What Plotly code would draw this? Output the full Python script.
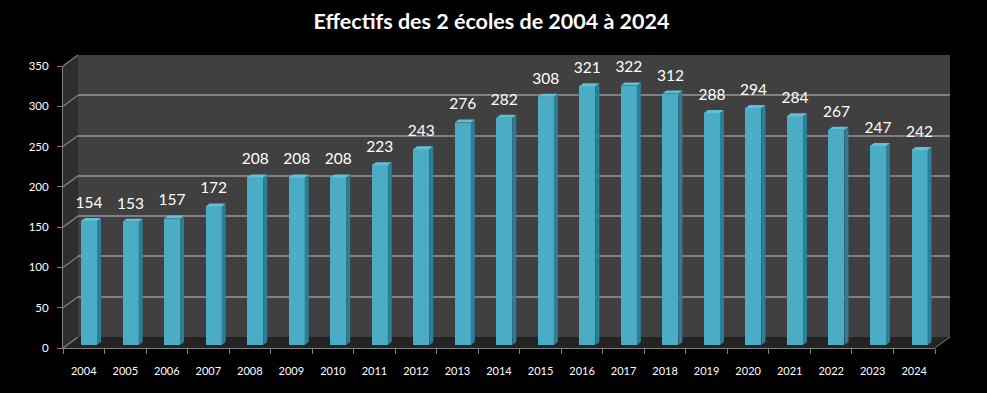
import plotly.graph_objects as go

# ---- data ----
years = [str(y) for y in range(2004, 2025)]
effectifs = [154, 153, 157, 172, 208, 208, 208, 223, 243, 276, 282, 308,
             321, 322, 312, 288, 294, 284, 267, 247, 242]
y_ticks = [0, 50, 100, 150, 200, 250, 300, 350]
title_text = "Effectifs des 2 écoles de 2004 à 2024"

# ---- geometry (pixels) ----
W, H = 987, 393
ML, MR, MT, MB = 63, 37, 55, 45
PW, PH = W - ML - MR, H - MT - MB          # 887 x 293
DEPTH_X, DEPTH_Y = 15, 11                  # 3D wall depth in px
FRONT_W, FRONT_H = PW - DEPTH_X, PH - DEPTH_Y
YMAX = 350
n = len(years)
px_per_cat = FRONT_W / n
px_per_unit = FRONT_H / YMAX

# bar placement (mid-depth)
bar_dx = 5.3 / px_per_cat
bar_base = 3.0 / px_per_unit
half_w = 0.5 * 16 / px_per_cat
side_dx = 4.0 / px_per_cat
side_dy = 3.0 / px_per_unit

FRONT = "#4bacc6"
SIDE = "#2c7f97"
TOP = "#63bfd7"
GRID = "#808080"
FONT = "Lato, 'Open Sans', sans-serif"

idx = list(range(n))
cx = [i + bar_dx for i in idx]
tops = [v + bar_base for v in effectifs]

fig = go.Figure()

# dummy trace for back-wall subplot (xy)
fig.add_trace(go.Scatter(x=[None], y=[None], xaxis="x", yaxis="y",
                         showlegend=False, hoverinfo="skip"))

# front faces
fig.add_trace(go.Bar(x=cx, y=effectifs, base=bar_base, width=2 * half_w,
                     marker=dict(color=FRONT, line=dict(width=0)),
                     xaxis="x2", yaxis="y2", showlegend=False, hoverinfo="skip"))

# side faces
sx, sy = [], []
for c, t in zip(cx, tops):
    xl, xr = c + half_w, c + half_w + side_dx
    sx += [xl, xr, xr, xl, xl, None]
    sy += [bar_base, bar_base + side_dy, t + side_dy, t, bar_base, None]
fig.add_trace(go.Scatter(x=sx, y=sy, fill="toself", fillcolor=SIDE, mode="lines",
                         line=dict(width=0, color=SIDE), xaxis="x2", yaxis="y2",
                         showlegend=False, hoverinfo="skip"))

# top faces
tx, ty = [], []
for c, t in zip(cx, tops):
    tx += [c - half_w, c + half_w, c + half_w + side_dx, c - half_w + side_dx, c - half_w, None]
    ty += [t, t, t + side_dy, t + side_dy, t, None]
fig.add_trace(go.Scatter(x=tx, y=ty, fill="toself", fillcolor=TOP, mode="lines",
                         line=dict(width=0, color=TOP), xaxis="x2", yaxis="y2",
                         showlegend=False, hoverinfo="skip"))

# value labels
label_off = 17.0 / px_per_unit
fig.add_trace(go.Scatter(x=cx, y=[t + label_off for t in tops], mode="text",
                         text=[str(v) for v in effectifs], textposition="middle center",
                         textfont=dict(family=FONT, size=15.5, color="white"),
                         cliponaxis=False, xaxis="x2", yaxis="y2",
                         showlegend=False, hoverinfo="skip"))

# ---- walls (paper coords) ----
fx1 = FRONT_W / PW
fy1 = FRONT_H / PH
bx0 = DEPTH_X / PW
by0 = DEPTH_Y / PH
shapes = [
    dict(type="rect", xref="paper", yref="paper", x0=bx0, x1=1, y0=by0, y1=1,
         fillcolor="#404040", line=dict(width=0), layer="below"),
    dict(type="path", xref="paper", yref="paper",
         path=f"M 0 0 L 0 {fy1} L {bx0} 1 L {bx0} {by0} Z",
         fillcolor="#2e2e2e", line=dict(width=0), layer="below"),
    dict(type="path", xref="paper", yref="paper",
         path=f"M 0 0 L {fx1} 0 L 1 {by0} L {bx0} {by0} Z",
         fillcolor="#242424", line=dict(width=0), layer="below"),
    dict(type="line", xref="paper", yref="paper", x0=fx1, y0=0, x1=1, y1=by0,
         line=dict(color=GRID, width=1), layer="below"),
]
for v in y_ticks:
    yf = v / YMAX * fy1
    shapes.append(dict(type="line", xref="paper", yref="paper",
                       x0=0, y0=yf, x1=bx0, y1=yf + by0,
                       line=dict(color=GRID, width=1.3), layer="below"))

fig.update_layout(
    width=W, height=H,
    margin=dict(l=ML, r=MR, t=MT, b=MB),
    paper_bgcolor="black", plot_bgcolor="rgba(0,0,0,0)",
    bargap=0,
    shapes=shapes,
    title=dict(text=title_text, x=491.5 / W, xanchor="center", y=1 - 21.5 / H,
               yanchor="middle",
               font=dict(family=FONT, size=21.5, color="white", weight="bold")),
    # back wall axes
    xaxis=dict(domain=[bx0, 1], anchor="y", range=[-0.5, n - 0.5], visible=False),
    yaxis=dict(domain=[by0, 1], anchor="x", range=[0, YMAX], tickvals=y_ticks,
               showgrid=True, gridcolor=GRID, gridwidth=1.5, showticklabels=False,
               ticks="", zeroline=False, showline=False),
    # front plane axes
    xaxis2=dict(domain=[0, fx1], anchor="y2", range=[-0.5, n - 0.5],
                tickvals=idx, ticktext=years, ticks="", showgrid=False, zeroline=False,
                showline=True, linecolor=GRID, linewidth=1,
                minor=dict(tickvals=[i - 0.5 for i in range(n + 1)], ticks="outside",
                           ticklen=5, tickcolor=GRID, tickwidth=1, showgrid=False),
                tickfont=dict(family=FONT, size=11, color="white"),
                ticklabelstandoff=13),
    yaxis2=dict(domain=[0, fy1], anchor="x2", range=[0, YMAX], tickvals=y_ticks,
                ticks="outside", ticklen=5, tickcolor=GRID, showgrid=False,
                zeroline=False, showline=True, linecolor=GRID, linewidth=1,
                tickfont=dict(family=FONT, size=11.5, color="white"),
                ticklabelstandoff=6),
)

fig.write_html("out.html", config={"displayModeBar": False},
               post_script="document.body.style.margin='0';document.body.style.background='black';")
